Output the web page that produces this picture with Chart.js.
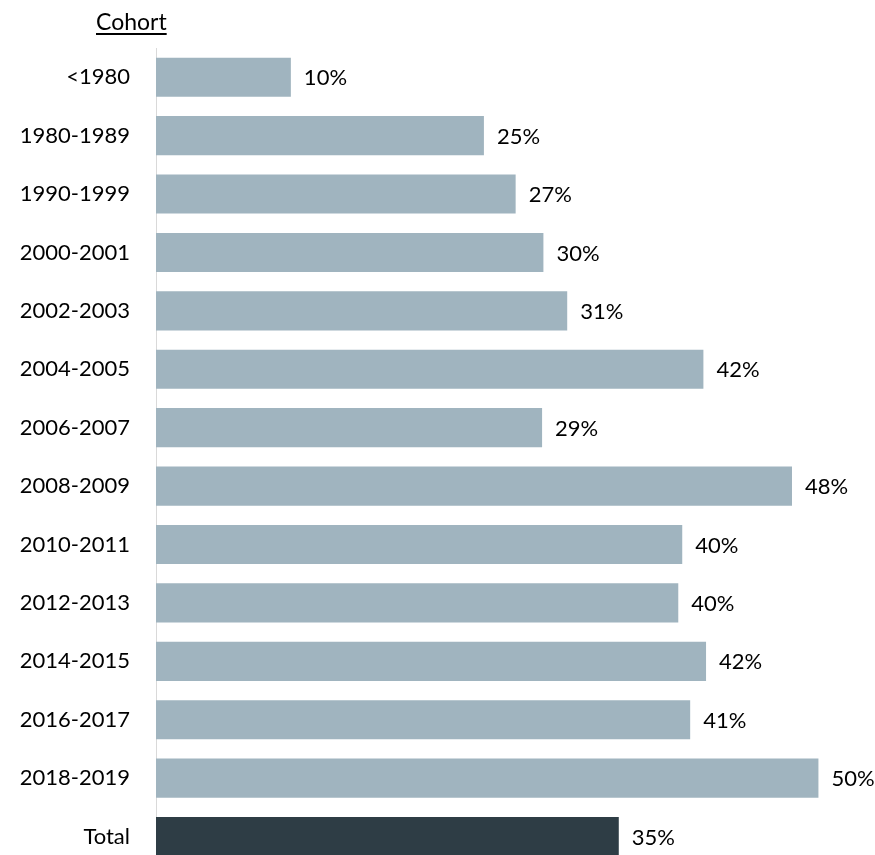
<!DOCTYPE html>
<html lang="en">
<head>
  <meta charset="UTF-8">
  <title>Cohort</title>
  <script src="https://cdn.jsdelivr.net/npm/chart.js"></script>
  <style>
    html, body {
      margin: 0;
      padding: 0;
      background: #fff;
      overflow: hidden;
    }
    .wrap {
      position: relative;
      width: 875px;
      height: 879px;
    }
    .header {
      position: absolute;
      left: 96px;
      top: 7px;
      font-family: Lato, sans-serif;
      font-size: 23px;
      color: #000;
      text-decoration: underline;
      text-underline-offset: 3px;
    }
  </style>
</head>
<body>
  <div class="wrap">
    <div class="header">Cohort</div>
    <canvas id="cohortChart" width="875" height="879"></canvas>
  </div>

  <script>
    const categories = ['<1980', '1980-1989', '1990-1999', '2000-2001', '2002-2003', '2004-2005',
      '2006-2007', '2008-2009', '2010-2011', '2012-2013', '2014-2015', '2016-2017', '2018-2019', 'Total'];
    const values = [10.2, 24.8, 27.2, 29.3, 31.1, 41.4, 29.2, 48.1, 39.8, 39.5, 41.6, 40.4, 50.1, 35.0];
    const valueLabels = ['10%', '25%', '27%', '30%', '31%', '42%', '29%', '48%', '40%', '40%', '42%', '41%', '50%', '35%'];

    const barColors = categories.map(c => c === 'Total' ? '#2e3d45' : '#a0b4bf');

    // write the percentage just right of each bar
    const endLabels = {
      id: 'endLabels',
      afterDatasetsDraw(chart) {
        const ctx = chart.ctx;
        const meta = chart.getDatasetMeta(0);
        ctx.save();
        ctx.font = '22px Lato, sans-serif';
        ctx.fillStyle = '#000';
        ctx.textAlign = 'left';
        ctx.textBaseline = 'middle';
        meta.data.forEach((bar, i) => {
          ctx.fillText(valueLabels[i], bar.x + 13, bar.y + 1);
        });
        ctx.restore();
      }
    };

    new Chart(document.getElementById('cohortChart'), {
      type: 'bar',
      data: {
        labels: categories,
        datasets: [{
          data: values,
          backgroundColor: barColors,
          barPercentage: 0.67,
          categoryPercentage: 1
        }]
      },
      options: {
        indexAxis: 'y',
        responsive: false,
        animation: false,
        layout: { padding: { top: 48, right: 5, bottom: 0, left: 0 } },
        plugins: {
          legend: { display: false },
          tooltip: { enabled: false }
        },
        scales: {
          x: {
            display: false,
            min: 0,
            max: 54
          },
          y: {
            // tick marks are not drawn, their length just pushes the labels left
            grid: { display: false, drawTicks: true, tickLength: 26 },
            border: { display: true, color: '#d9d9d9', width: 1 },
            ticks: {
              color: '#000',
              padding: 0,
              font: { family: 'Lato, sans-serif', size: 22 }
            },
            afterFit(scale) { scale.width = 156; }
          }
        }
      },
      plugins: [endLabels]
    });
  </script>
</body>
</html>
